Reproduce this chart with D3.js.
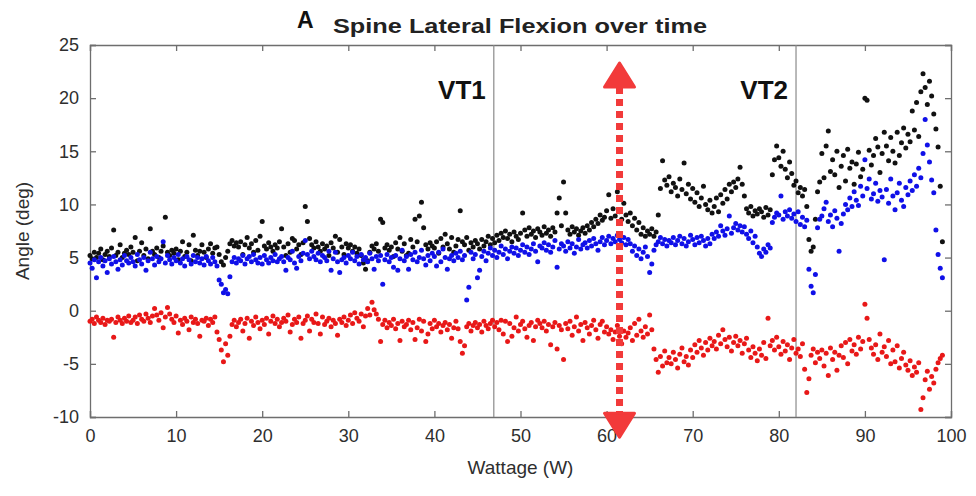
<!DOCTYPE html>
<html lang="en">

<head>
	<meta charset="UTF-8">
	<title>Spine Lateral Flexion over time</title>
	<style>
		body { margin: 0; background: #fff; }
		svg { display: block; font-family: "Liberation Sans", Arial, sans-serif; }
	</style>
</head>
<body>
<script src="https://d3js.org/d3.v7.min.js"></script>
<script>
	// 画布
	let width = 976;
	let height = 496;
	let padding = { top: 45, right: 25, bottom: 79, left: 90 };

	// 坐标轴刻度
	let xTicks = [0, 10, 20, 30, 40, 50, 60, 70, 80, 90, 100];
	let yTicks = [-10, -5, 0, 5, 10, 15, 20, 25];

	// 阈值 (W)
	let thresholds = [['VT1', 46.9], ['VT2', 82.0]];
	// 红色箭头位置
	let arrowX = 61.5;
	let arrowTop = 23.3;
	let arrowBottom = -11.9;

	// 采样点 0 ~ 99 W, 每 0.25 W 一个
	let wattage = d3.range(0, 99.01, 0.25);

	// 黑色
	let seriesBlack = [
		5.2,4.9,5.5,5.0,5.4,5.8,4.8,5.3,5.6,5.1,
		5.9,7.6,5.2,5.5,6.2,5.0,5.4,5.7,5.3,6.0,
		5.5,6.9,4.7,5.6,6.4,5.2,5.8,4.9,7.7,5.6,
		5.3,5.9,5.0,5.6,6.1,8.8,5.5,5.2,5.7,5.4,
		5.8,4.8,5.6,6.5,5.1,5.5,6.2,4.7,7.1,5.7,
		5.2,5.6,6.2,5.5,5.0,5.8,6.3,5.4,5.9,6.0,
		5.3,4.6,4.3,5.0,5.6,6.3,6.6,6.1,6.4,6.0,
		6.5,5.3,6.2,6.9,5.9,6.3,5.5,6.6,5.7,7.0,
		8.4,6.1,5.8,6.4,6.0,5.6,6.2,5.9,6.5,7.7,
		6.0,5.2,6.3,5.5,6.8,6.6,5.8,6.2,5.3,6.4,
		9.8,8.4,6.8,6.2,5.9,6.5,6.0,5.6,6.3,5.8,
		6.1,5.2,6.4,5.9,7.0,5.5,6.7,6.0,5.3,6.3,
		5.9,6.2,5.6,6.0,5.4,5.8,5.2,4.5,3.9,4.7,
		5.5,6.1,5.8,6.3,5.6,8.6,8.3,5.9,6.2,5.7,
		6.0,5.1,6.4,5.8,6.9,5.6,6.3,5.2,5.4,6.7,
		6.0,8.6,6.5,8.9,10.2,7.8,6.2,5.8,6.4,6.1,
		5.9,6.5,5.4,6.8,6.0,7.2,6.3,5.8,6.9,5.5,
		6.1,6.7,9.4,6.5,6.2,6.9,5.7,6.4,6.0,6.6,
		6.3,5.8,6.7,6.1,6.5,7.0,6.2,6.8,6.4,7.1,
		6.6,7.3,6.9,7.5,6.8,7.2,6.5,7.4,7.0,6.7,
		7.3,9.2,7.6,7.0,7.8,7.2,7.5,6.9,7.7,7.4,
		7.1,7.9,7.3,7.6,7.0,7.8,7.4,9.2,10.6,8.0,
		12.1,9.2,7.6,7.2,7.9,7.4,7.7,7.1,7.5,7.8,
		7.3,8.0,7.6,8.3,7.9,8.6,8.2,9.0,8.5,8.8,
		9.4,10.9,8.7,9.6,8.9,11.2,9.3,8.6,10.1,9.0,
		8.4,9.2,8.0,8.7,7.6,8.3,7.2,7.8,7.0,7.5,
		7.2,7.7,7.0,7.4,9.0,11.5,14.1,12.3,11.8,12.6,
		11.2,12.0,11.6,10.8,12.4,11.4,13.9,11.0,11.9,10.5,
		11.5,10.2,11.1,9.8,10.6,11.7,10.0,9.5,10.4,9.2,
		9.8,10.6,9.3,10.9,10.1,11.4,10.5,11.9,11.2,12.1,
		11.6,12.4,13.5,11.9,10.8,9.6,9.2,9.8,8.9,9.4,
		9.1,9.6,9.3,8.8,9.7,9.0,9.5,12.8,14.2,15.5,
		14.4,13.6,15.0,13.3,12.5,14.0,12.9,11.8,12.2,11.1,
		11.6,10.8,11.4,9.8,6.7,5.6,6.0,8.6,11.2,12.1,
		14.8,12.5,15.5,16.9,13.1,14.2,12.8,15.0,11.6,13.6,
		14.6,12.2,15.2,13.4,14.0,11.9,13.8,14.9,12.6,13.3,
		20.0,19.8,15.1,13.7,14.6,16.2,15.4,13.0,14.8,16.8,
		15.5,14.1,16.3,15.0,13.9,16.8,14.6,15.8,17.2,15.3,
		16.6,15.9,18.8,17.0,19.6,16.4,20.6,22.3,21.0,19.4,
		21.6,20.2,18.5,17.1,15.4,11.7,6.5
	];

	// 蓝色
	let seriesBlue = [
		4.5,4.0,4.8,3.1,4.6,5.0,4.2,4.7,3.6,4.9,
		4.4,5.1,4.6,3.9,4.8,4.3,5.2,4.7,4.5,5.0,
		4.6,4.2,5.3,4.8,4.4,5.0,3.8,4.7,5.5,4.9,
		4.3,5.1,4.6,4.9,6.5,4.5,5.2,4.8,4.4,5.0,
		4.7,5.3,4.5,4.9,4.2,5.1,4.8,4.4,5.2,4.6,
		5.0,4.5,4.9,4.3,5.1,4.7,4.4,5.0,4.6,4.2,
		2.9,2.5,1.7,2.0,1.6,3.2,4.6,5.0,4.5,4.9,
		4.7,5.2,4.4,4.9,5.1,4.6,5.3,4.8,4.5,5.0,
		4.4,5.2,4.8,4.5,5.0,4.7,5.3,4.6,4.9,5.1,
		4.6,3.8,5.0,4.8,5.6,4.5,4.0,5.1,4.7,5.4,
		6.6,5.3,4.9,5.6,5.1,4.8,5.4,4.6,5.2,5.0,
		4.7,5.6,3.8,4.9,5.5,4.6,3.6,4.8,5.0,4.5,
		5.2,4.9,5.5,4.7,5.1,4.4,5.3,4.8,5.0,4.6,
		5.4,4.9,3.9,5.1,4.7,5.2,2.5,4.8,5.3,4.6,
		5.0,4.1,5.2,3.8,4.9,5.7,4.7,5.1,3.9,5.3,
		4.8,5.5,4.6,5.0,5.7,4.9,4.3,5.2,4.7,5.4,
		5.1,4.2,5.5,4.6,5.8,5.0,3.9,4.9,5.2,4.7,
		5.4,5.0,5.6,4.8,5.2,1.0,2.2,5.5,4.9,5.3,
		3.1,3.8,5.1,5.6,4.7,5.4,5.9,5.2,5.7,5.0,
		5.5,6.1,5.3,5.8,4.9,5.6,6.0,5.4,5.9,5.2,
		5.7,6.2,5.5,6.0,5.3,5.8,6.3,5.6,4.6,6.1,
		5.9,6.4,5.7,6.2,5.5,6.0,6.6,4.1,5.8,6.3,
		6.1,5.6,6.5,5.9,6.3,5.4,6.0,6.7,5.8,6.2,
		6.4,5.9,6.6,6.1,6.8,6.3,5.7,6.5,6.9,6.2,
		6.6,7.0,6.3,6.8,6.5,7.1,6.7,6.4,6.9,6.2,
		6.7,6.3,5.6,6.1,5.2,5.8,4.9,5.5,6.0,5.1,
		3.6,4.4,5.7,6.2,6.5,6.9,6.3,6.7,6.1,6.6,
		6.4,6.9,6.2,6.6,7.0,6.3,6.8,6.1,6.5,7.1,
		6.7,6.2,6.9,6.4,7.0,6.6,6.1,6.8,6.3,7.2,
		6.8,7.4,7.0,8.0,7.5,7.1,7.7,8.9,7.3,7.8,
		8.2,7.6,8.0,7.4,7.9,7.2,6.8,7.5,6.4,7.0,
		6.0,5.4,5.1,5.8,5.5,6.2,5.9,8.3,8.8,9.2,
		9.0,10.8,8.6,9.3,8.9,9.5,8.7,9.1,8.4,9.3,
		8.1,8.8,7.9,8.5,3.9,2.3,1.7,3.4,7.8,8.6,
		8.9,9.6,10.2,8.4,9.0,7.9,9.4,8.7,5.6,8.2,
		9.1,10.0,9.5,10.6,9.8,11.2,10.4,9.9,11.7,10.8,
		14.2,11.5,12.4,10.5,11.0,12.0,10.3,11.3,10.7,4.8,
		11.4,10.1,12.4,10.8,9.5,11.1,12.0,10.4,9.8,11.6,
		10.9,12.2,11.3,12.8,11.7,13.4,12.5,14.8,18.0,15.6,
		14.0,12.3,11.1,7.6,5.3,4.0,3.1
	];

	// 红色
	let seriesRed = [
		-1.0,-0.8,-1.2,-0.6,-0.9,-1.1,-0.7,-1.3,-0.9,-1.0,
		-0.8,-2.5,-1.1,-0.6,-0.9,-1.2,-0.7,-1.0,-0.5,-1.1,
		-0.9,-0.6,-1.2,-0.4,-0.8,-1.0,-0.3,-0.7,-1.1,-0.5,
		0.2,-0.4,-0.9,-0.2,-1.6,-0.6,0.3,-0.3,-0.8,-1.1,
		-0.5,-2.1,-0.9,-1.3,-0.7,-1.0,-1.8,-0.6,-1.1,-0.8,
		-1.2,-2.4,-0.9,-1.0,-0.7,-1.4,-0.8,-1.1,-0.6,-2.0,
		-2.7,-3.7,-4.8,-3.1,-4.2,-2.4,-1.3,-0.9,-1.5,-1.1,
		-0.8,-1.9,-1.2,-0.7,-2.6,-1.0,-1.4,-0.6,-1.1,-1.7,
		-0.9,-1.3,-0.7,-2.2,-1.0,-0.5,-1.2,-0.8,-1.5,-1.1,
		-0.7,-1.0,-0.4,-2.0,-1.3,-0.8,-1.1,-0.6,-2.6,-1.2,
		-0.9,-0.5,-1.9,-0.8,-1.1,-0.3,-1.2,-2.2,-0.6,-1.3,
		-1.0,-0.7,-1.5,-0.9,-1.2,-2.3,-0.8,-1.1,-0.6,-1.4,
		-0.9,-0.4,-1.2,-0.2,-0.7,-1.0,-0.3,-1.5,-0.5,0.2,
		-0.4,0.8,0.1,-0.3,-0.8,-2.9,-1.3,-0.9,-1.6,-1.1,
		-1.4,-0.8,-1.7,-1.2,-2.8,-1.0,-1.5,-1.3,-0.9,-1.8,
		-1.1,-2.7,-1.6,-0.8,-1.9,-1.0,-2.9,-2.2,-1.2,-1.7,
		-0.9,-1.5,-1.2,-2.0,-1.4,-1.1,-1.8,-1.3,-2.6,-1.6,
		-1.0,-1.7,-2.9,-4.0,-3.3,-1.5,-1.2,-1.9,-1.4,-1.1,
		-1.6,-1.3,-2.0,-1.0,-1.4,-1.7,-1.2,-0.9,-1.5,-1.1,
		-1.8,-0.9,-2.2,-1.0,-2.9,-1.2,-2.4,-1.6,-0.6,-1.9,
		-1.3,-1.0,-1.7,-2.5,-1.4,-1.1,-2.8,-1.5,-0.9,-1.2,
		-1.6,-1.0,-1.9,-1.3,-3.2,-1.5,-1.1,-3.6,-1.4,-1.8,
		-4.6,-1.2,-1.7,-1.0,-2.3,-1.5,-0.6,-1.9,-1.3,-2.8,
		-1.1,-1.6,-2.2,-1.4,-0.9,-1.8,-2.6,-1.3,-1.0,-2.0,
		-1.5,-2.2,-1.8,-2.7,-2.0,-1.4,-2.4,-3.1,-1.9,-2.5,
		-2.1,-1.6,-2.8,-1.2,-2.3,-0.8,-1.9,-2.5,-1.5,-2.2,
		-0.4,-1.8,-3.6,-4.6,-5.8,-4.3,-5.2,-3.8,-4.9,-4.4,
		-5.0,-3.9,-4.6,-5.4,-4.1,-3.5,-4.8,-4.3,-5.1,-3.7,
		-4.4,-3.2,-3.9,-2.8,-3.5,-4.2,-3.0,-3.7,-2.6,-3.3,
		-2.9,-3.6,-2.3,-3.1,-1.8,-2.7,-3.4,-2.5,-3.8,-3.0,
		-2.4,-3.3,-2.8,-4.0,-3.1,-2.6,-3.7,-4.4,-3.4,-4.0,
		-4.7,-3.6,-4.2,-3.0,-4.5,-0.7,-3.3,-2.8,-3.7,-2.5,
		-3.4,-4.1,-2.9,-3.8,-3.2,-4.6,-3.5,-2.7,-4.0,-3.6,
		-4.3,-3.1,-5.5,-7.7,-6.4,-4.2,-3.6,-4.9,-3.9,-4.5,
		-3.7,-5.2,-4.0,-6.1,-3.5,-4.6,-3.9,-5.6,-4.2,-3.3,
		-4.4,-3.0,-5.0,-2.7,-3.8,-3.2,-4.1,-2.5,-3.6,-2.9,
		0.6,-0.7,-2.7,-3.5,-4.1,-3.2,-4.6,-2.2,-3.9,-3.4,
		-4.3,-2.8,-5.0,-3.7,-4.8,-3.3,-5.4,-4.5,-3.9,-5.1,
		-5.6,-4.7,-6.1,-5.3,-5.8,-4.9,-9.3,-8.2,-6.5,-5.7,
		-7.4,-6.2,-6.8,-5.5,-4.9,-4.5,-4.2
	];

	let series = [
		{ color: '#111111', values: seriesBlack },
		{ color: '#1010e8', values: seriesBlue },
		{ color: '#e81818', values: seriesRed }
	];

	let xScale = d3.scaleLinear()
			.domain([0, 100])
			.range([padding.left, width - padding.right]);
	let yScale = d3.scaleLinear()
			.domain([-10, 25])
			.range([height - padding.bottom, padding.top]);

	let svg = d3.select('body')
			.append('svg')
			.attr('width', width)
			.attr('height', height);

	let axisColor = '#6e6e6e';
	let labelColor = '#2e2e2e';

	// 四周坐标轴 (刻度朝内)
	svg.append('g')
			.attr('transform', 'translate(0,' + (height - padding.bottom) + ')')
			.call(d3.axisBottom(xScale).tickValues(xTicks).tickSize(-6).tickPadding(12).tickFormat(String));
	svg.append('g')
			.attr('transform', 'translate(0,' + padding.top + ')')
			.call(d3.axisTop(xScale).tickValues(xTicks).tickSize(-6).tickFormat(''));
	svg.append('g')
			.attr('transform', 'translate(' + padding.left + ',0)')
			.call(d3.axisLeft(yScale).tickValues(yTicks).tickSize(-6).tickPadding(11).tickFormat(String));
	svg.append('g')
			.attr('transform', 'translate(' + (width - padding.right) + ',0)')
			.call(d3.axisRight(yScale).tickValues(yTicks).tickSize(-6).tickFormat(''));

	svg.selectAll('.domain, .tick line')
			.attr('stroke', axisColor)
			.attr('stroke-width', 1.3);
	svg.selectAll('.tick text')
			.attr('fill', labelColor)
			.attr('font-size', '18px');

	// VT 竖线
	svg.append('g')
			.selectAll('line')
			.data(thresholds)
			.enter()
			.append('line')
			.attr('x1', function(d) { return xScale(d[1]); })
			.attr('x2', function(d) { return xScale(d[1]); })
			.attr('y1', yScale(25))
			.attr('y2', yScale(-10))
			.attr('stroke', '#8a8a8a')
			.attr('stroke-width', 1.2);

	svg.append('g')
			.selectAll('text')
			.data(thresholds)
			.enter()
			.append('text')
			.text(function(d) { return d[0]; })
			.attr('x', function(d) { return xScale(d[1]) - 8; })
			.attr('y', yScale(20) + 1)
			.attr('text-anchor', 'end')
			.attr('font-size', '26px')
			.attr('font-weight', 'bold')
			.attr('fill', '#111');

	// 散点
	series.forEach(function(s) {
		svg.append('g')
				.selectAll('circle')
				.data(s.values)
				.enter()
				.append('circle')
				.attr('cx', function(d, i) { return xScale(wattage[i]); })
				.attr('cy', function(d) { return yScale(d); })
				.attr('r', 2.5)
				.attr('fill', s.color);
	});

	// 红色虚线双箭头
	let arrowColor = '#f23a3a';
	let ax = xScale(arrowX);
	let headH = 24;
	let headW = 15;
	svg.append('line')
			.attr('x1', ax)
			.attr('x2', ax)
			.attr('y1', yScale(arrowTop) + headH)
			.attr('y2', yScale(arrowBottom) - headH)
			.attr('stroke', arrowColor)
			.attr('stroke-width', 7)
			.attr('stroke-dasharray', '7,5');
	svg.append('path')
			.attr('d', 'M' + ax + ',' + yScale(arrowTop) + 'L' + (ax + headW) + ',' + (yScale(arrowTop) + headH) + 'L' + (ax - headW) + ',' + (yScale(arrowTop) + headH) + 'Z')
			.attr('fill', arrowColor)
			.attr('stroke', arrowColor)
			.attr('stroke-width', 3)
			.attr('stroke-linejoin', 'round');
	svg.append('path')
			.attr('d', 'M' + ax + ',' + yScale(arrowBottom) + 'L' + (ax + headW) + ',' + (yScale(arrowBottom) - headH) + 'L' + (ax - headW) + ',' + (yScale(arrowBottom) - headH) + 'Z')
			.attr('fill', arrowColor)
			.attr('stroke', arrowColor)
			.attr('stroke-width', 3)
			.attr('stroke-linejoin', 'round');

	// 标题
	svg.append('text')
			.text('A')
			.attr('x', 297)
			.attr('y', 28)
			.attr('font-size', '23px')
			.attr('font-weight', 'bold')
			.attr('fill', '#111');
	svg.append('text')
			.text('Spine Lateral Flexion over time')
			.attr('x', 333)
			.attr('y', 33)
			.attr('font-size', '20px')
			.attr('font-weight', 'bold')
			.attr('textLength', 374)
			.attr('lengthAdjust', 'spacingAndGlyphs')
			.attr('fill', '#222');

	// 轴标题
	svg.append('text')
			.text('Wattage (W)')
			.attr('x', (xScale(0) + xScale(100)) / 2)
			.attr('y', 474)
			.attr('text-anchor', 'middle')
			.attr('font-size', '19px')
			.attr('fill', labelColor);
	svg.append('text')
			.text('Angle (deg)')
			.attr('transform', 'translate(29,' + ((yScale(-10) + yScale(25)) / 2) + ') rotate(-90)')
			.attr('text-anchor', 'middle')
			.attr('font-size', '19px')
			.attr('fill', labelColor);
</script>
</body>
</html>
